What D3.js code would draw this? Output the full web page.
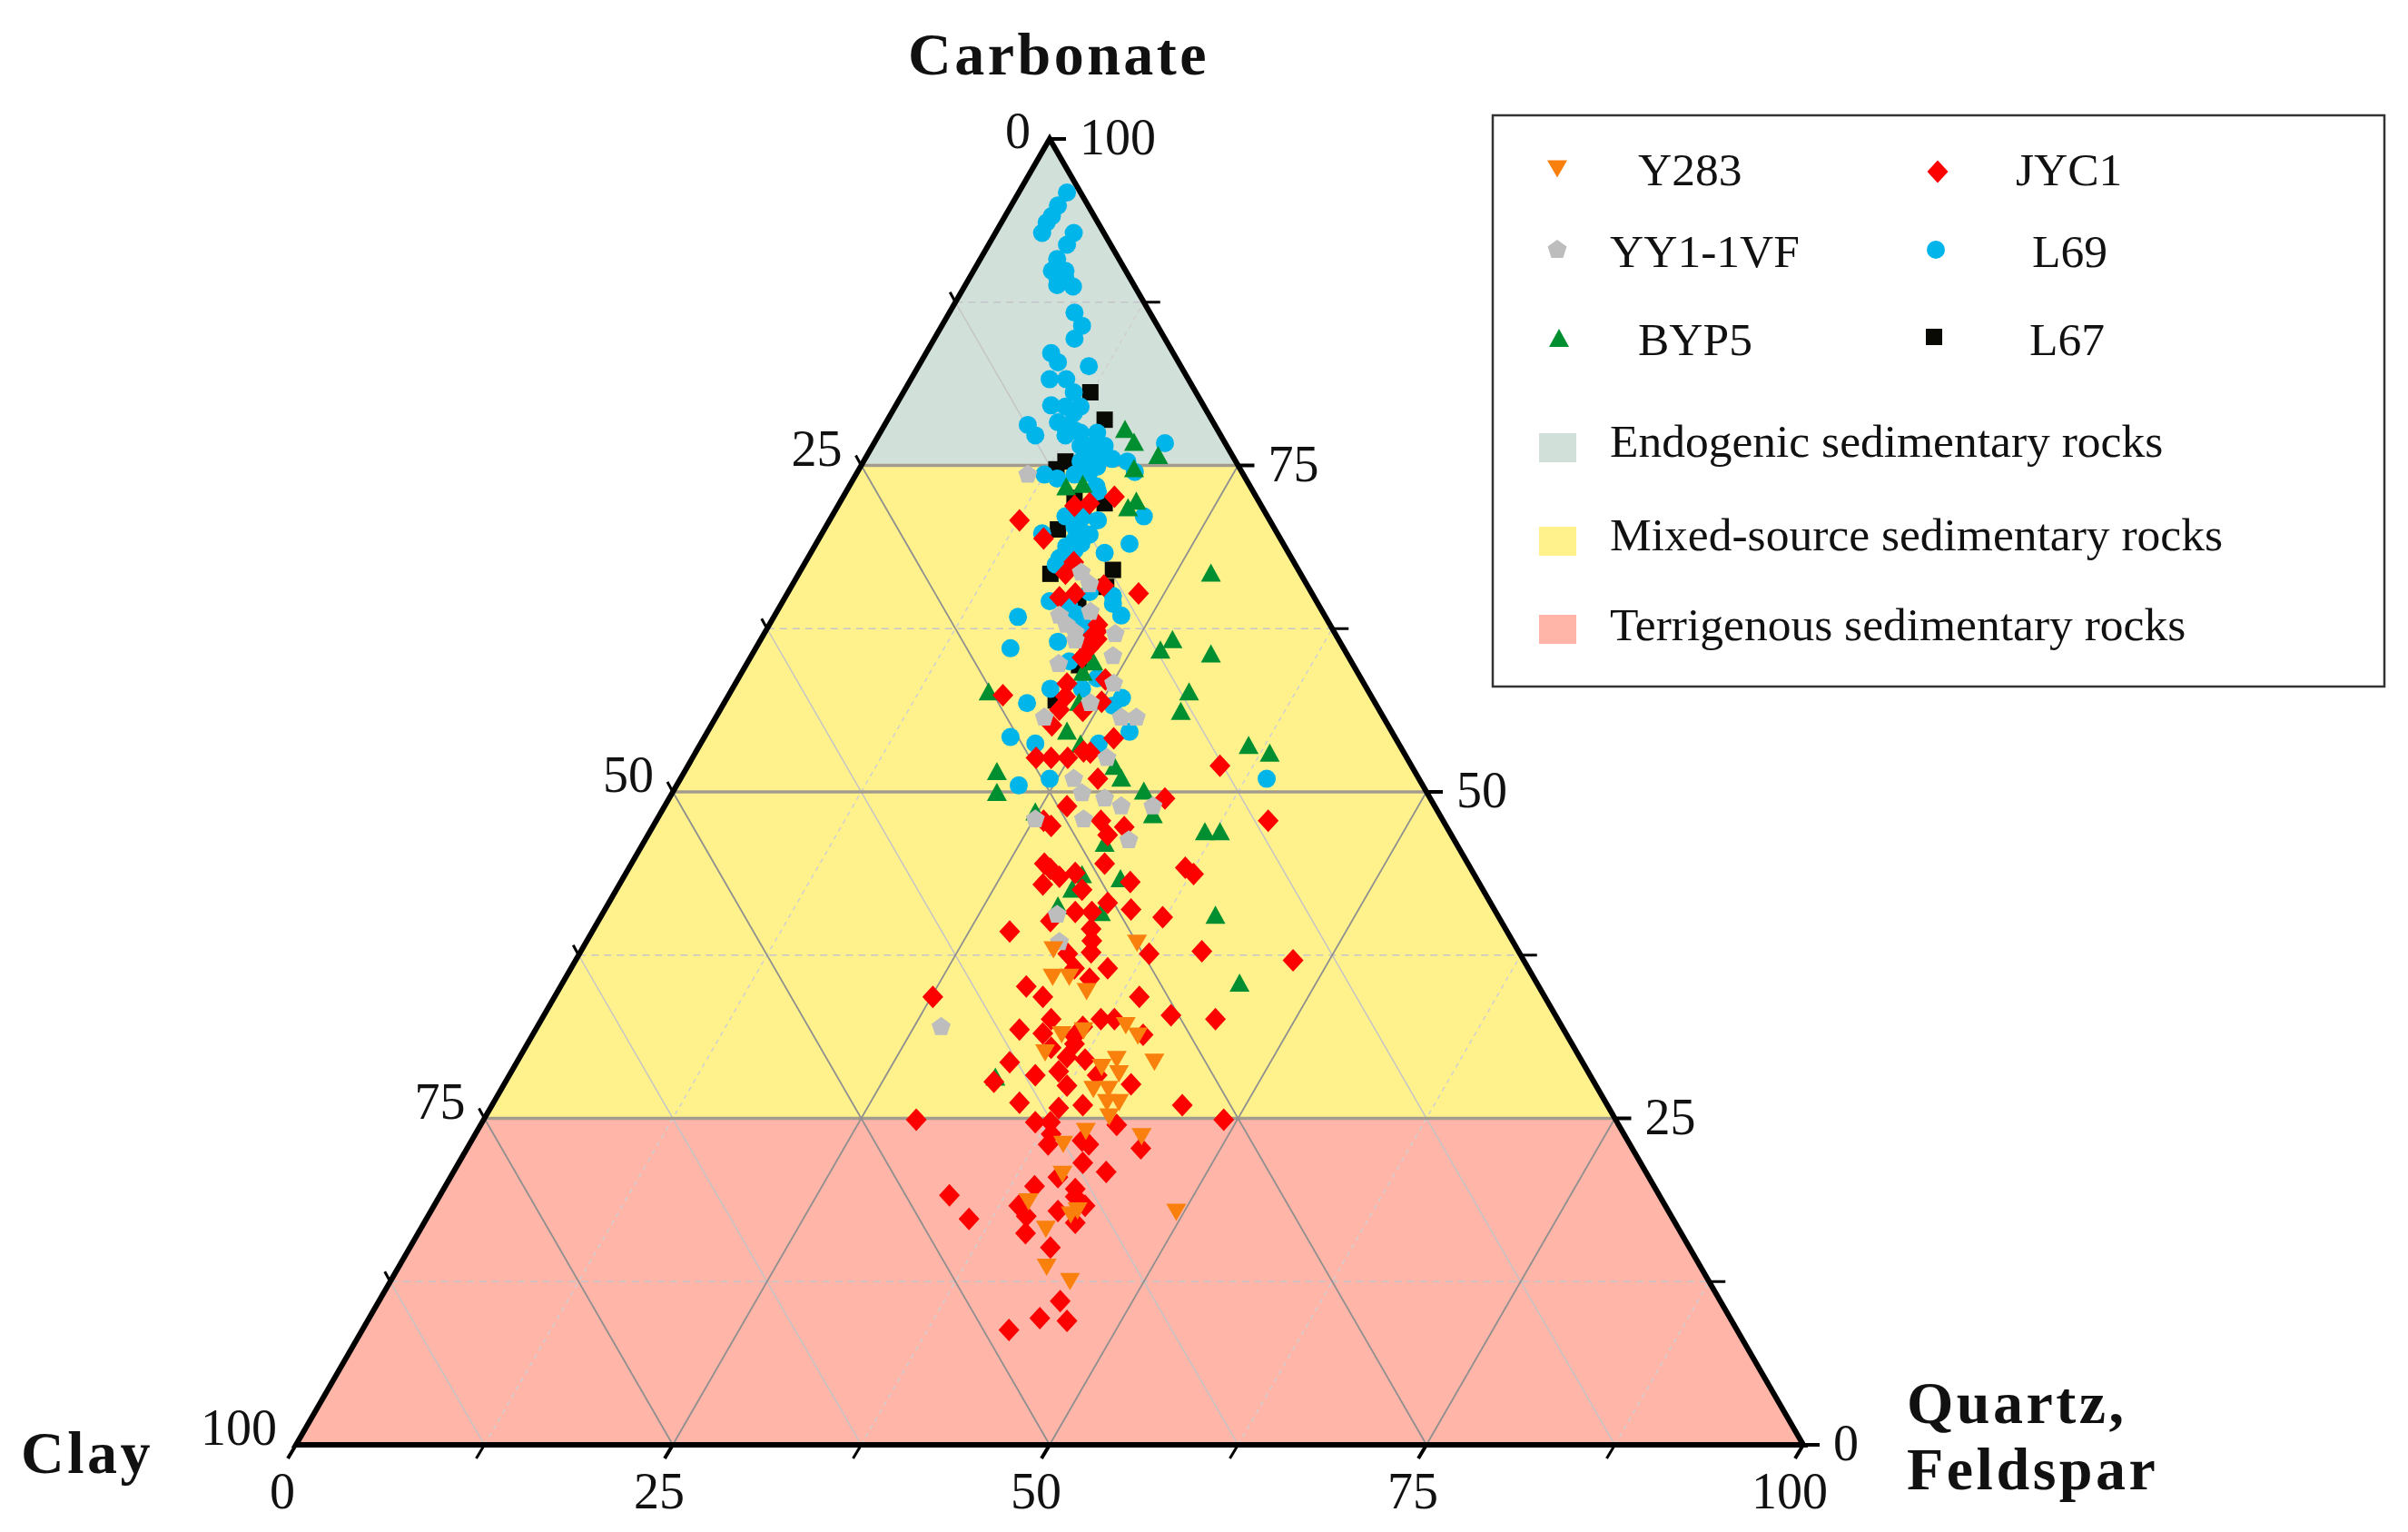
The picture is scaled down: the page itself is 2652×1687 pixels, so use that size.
<!DOCTYPE html>
<html>
<head>
<meta charset="utf-8">
<title>Ternary diagram</title>
<script src="https://cdnjs.cloudflare.com/ajax/libs/d3/7.8.5/d3.min.js"></script>
<style>
  html, body { margin: 0; background: #fff; }
  svg { display: block; }
  text { font-family: "Liberation Serif", serif; fill: #111; }
</style>
</head>
<body>
<svg id="svg" width="2652" height="1687"></svg>
<script>
// every point is [quartz+feldspar, carbonate], clay is the rest up to 100
const l67 = [[12.4,80.6],[14.4,78.5],[13.4,75.3],[13.1,74.7],[15.4,72.5],[17.6,72.1],[15.5,70.1],[16.7,66.7],[20.7,67.0],[20.9,65.7],[19.6,64.6],[21.4,62.2],[22.1,59.7],[21.9,57.0]];

const l69 = [[3.2,95.9],[3.1,94.9],[3.1,94.1],[3.0,93.6],[3.1,92.8],[5.2,92.8],[5.2,91.9],[5.1,90.8],[5.2,89.9],[6.1,89.9],[5.8,89.4],[6.1,88.8],[7.2,88.7],[6.4,89.3],[8.3,86.7],[9.3,85.7],[9.3,84.7],[8.3,83.6],[9.1,82.9],[11.3,82.6],[9.2,81.6],[10.3,81.6],[11.3,80.6],[10.3,79.6],[12.3,79.5],[11.3,79.5],[12.1,79.0],[11.4,78.3],[12.1,78.0],[9.5,78.1],[10.4,77.3],[12.4,77.3],[13.3,77.5],[14.4,77.5],[19.3,76.7],[15.4,76.5],[14.4,76.5],[13.8,76.5],[15.2,75.9],[14.8,75.6],[16.4,75.5],[17.5,75.3],[14.4,75.3],[15.3,74.6],[12.5,74.3],[13.5,74.0],[14.5,74.3],[15.4,74.4],[18.4,74.5],[16.4,73.4],[12.8,77.7],[15.8,75.6],[15.7,74.9],[14.8,74.6],
  [16.7,73.0],[15.5,71.1],[16.7,71.1],[17.8,70.8],[20.7,71.1],[14.6,69.8],[16.5,70.3],[17.8,69.7],[17.0,69.3],[17.6,69.0],[20.8,69.0],[16.7,68.8],[19.5,68.3],[16.7,67.9],[17.4,68.5],[16.7,67.4],[20.0,65.3],[21.7,65.0],[22.0,64.4],[17.7,64.6],[19.2,64.2],[20.0,63.6],[23.0,63.5],[16.2,63.4],[20.8,62.8],[19.8,61.5],[16.9,61.0],[21.3,60.0],[23.8,58.7],[21.1,57.9],[23.2,57.9],[26.2,57.2],[25.9,56.6],[20.1,56.8],[28.0,54.6],[20.3,54.2],[22.2,53.7],[26.4,53.7],[24.5,51.0],[22.7,50.5],[38.9,51.0],[16.3,70.8],[16.9,68.3],[17.2,69.9]];

const byp5 = [[16.1,77.8],[17.2,76.8],[19.3,75.8],[18.2,74.8],[14.4,73.4],[15.4,73.6],
  [19.3,71.8],[19.6,72.3],[27.3,66.8],[27.3,61.7],[26.9,60.9],[30.4,60.6],[22.6,59.2],[22.9,60.0],[17.1,57.7],[30.4,57.7],[30.6,56.2],[23.8,54.7],[25.2,53.7],[36.4,53.6],[38.1,53.0],[28.3,52.0],[20.7,51.6],[29.2,51.1],[21.5,50.0],[31.2,50.1],[24.8,48.5],[32.7,48.3],[36.8,47.0],[37.8,47.0],[30.6,46.1],[23.5,56.9],
  [30.3,43.7],[33.0,43.4],[30.2,42.6],[29.9,41.3],[33.0,40.8],[40.7,40.6],[44.9,35.4],[32.3,28.2]];

const jyc1 = [[18.0,72.6],[16.6,72.1],[15.7,71.9],[12.6,70.8],[14.9,69.4],[17.7,66.7],[17.8,67.6],[20.7,65.8],[23.3,65.2],[18.2,64.9],[19.1,65.2],[21.8,62.8],[22.3,61.7],[22.1,61.0],[22.0,60.3],[22.0,62.3],[21.8,61.7],[22.0,58.3],[24.4,58.6],[18.2,57.4],[22.4,57.3],[25.0,56.9],[22.5,56.3],[24.1,56.2],[22.6,55.1],[27.2,54.1],[22.8,52.6],[23.8,52.6],[24.9,52.6],[25.7,53.1],[26.2,53.0],[35.3,52.0],[27.7,51.0],[32.9,49.5],[26.7,48.9],[29.5,47.8],[26.4,47.4],[25.7,47.8],[31.3,47.3],[30.5,46.7],[40.6,47.8],
  [28.0,44.1],[28.9,43.5],[29.8,43.8],[27.4,44.5],[31.4,44.5],[36.9,44.2],[37.7,43.7],[28.1,42.9],[30.9,42.5],[33.8,43.1],[33.1,41.5],[31.3,40.8],[32.4,40.8],[34.9,41.0],[30.0,40.1],[37.3,40.4],[27.7,39.3],[33.0,39.5],[33.5,38.6],[33.9,37.7],[32.4,37.6],[37.8,37.6],[41.2,37.8],[47.6,37.1],[33.4,36.5],[35.6,36.5],[34.8,35.7],[30.9,35.1],[32.4,34.3],[25.1,34.3],[38.8,34.3],[33.8,32.6],[37.1,32.6],[38.0,32.6],[41.6,32.9],[44.7,32.6],[32.1,31.8],[33.8,31.5],[36.2,32.0],[40.5,31.4],[36.0,31.3],[36.3,30.7],[34.9,30.4],[36.3,29.7],[37.6,29.5],[32.7,29.3],[36.3,28.6],[34.9,28.3],[39.0,28.3],[32.4,27.8],[37.4,27.5],[41.6,27.6],[34.9,26.2],[37.7,25.8],[39.2,26.0],[45.8,26.0],[28.7,24.9],[36.7,24.7],[37.7,24.7],[42.2,24.5],[49.1,24.9],[38.2,23.8],[38.4,23.0],[40.5,23.3],[41.1,23.0],[44.7,22.7],[41.4,21.6],[43.3,20.9],[40.3,20.5],[39.1,19.8],[41.9,19.6],[33.8,19.1],[38.8,18.3],[42.2,19.0],[41.6,17.9],[43.2,18.3],[36.0,17.3],[39.7,17.5],[43.2,17.0],[40.3,16.2],[42.5,15.1],[45.2,11.0],[44.5,9.7],[46.4,9.5],[42.9,8.8]];

const yy1 = [[11.4,74.3],[18.7,66.8],[19.7,65.9],[20.8,63.8],[18.9,63.5],[19.7,62.8],[23.3,62.1],[20.9,61.6],[24.0,60.4],[20.7,59.8],[25.1,58.3],[24.3,56.8],[21.8,55.7],[26.9,55.7],[27.9,55.7],[27.5,52.6],[26.1,51.0],[27.2,49.9],[28.9,49.5],[30.3,48.9],[32.4,48.9],[25.1,47.9],[28.3,47.9],[32.1,46.3],[20.6,62.2],[30.2,40.6],[31.4,38.5],[26.8,32.0]];

const y283 = [[36.6,38.4],[31.3,37.9],[32.3,35.8],[33.4,35.8],[35.1,34.7],[35.1,31.4],[36.4,31.7],[39.0,32.1],[40.2,31.3],[34.7,30.0],[39.7,29.5],[42.3,29.3],[39.0,28.9],[40.4,28.4],[39.3,27.2],[40.3,27.2],[40.7,26.2],[41.5,26.2],[41.4,25.1],[40.4,24.0],[44.3,23.6],[39.4,23.0],[40.5,20.7],[39.3,18.6],[42.9,17.9],[42.6,17.6],[41.5,16.5],[49.5,17.8],[43.0,13.6],[45.1,12.5]];

const seriesNames = ['Y283', 'JYC1', 'YY1-1VF', 'L69', 'BYP5', 'L67'];
const bandNames = ['Endogenic sedimentary rocks', 'Mixed-source sedimentary rocks', 'Terrigenous sedimentary rocks'];
const bandLimits = [[75, 100], [25, 75], [0, 25]];
const bandColors = ['#d1e0d9', '#fff28d', '#ffb5a7'];
const majorTicks = [25, 50, 75];
const minorTicks = [12.5, 37.5, 62.5, 87.5];
const allTicks = [0, 12.5, 25, 37.5, 50, 62.5, 75, 87.5, 100];
const labelTicks = [0, 25, 50, 75, 100];

const xScale = d3.scaleLinear().domain([0, 100]).range([326, 1986]);
const yScale = d3.scaleLinear().domain([0, 100]).range([1591, 153]);

// ternary to screen
const px = (q, c) => xScale(q + c / 2);
const py = c => yScale(c);
const pt = (q, c) => [px(q, c), py(c)];
const line = d3.line();

const svg = d3.select('#svg');

// marker shapes, d3.symbol only has a tall diamond and no pentagon
const poly = pts => ({
  draw(ctx) {
    pts.forEach((p, i) => i ? ctx.lineTo(p[0], p[1]) : ctx.moveTo(p[0], p[1]));
    ctx.closePath();
  }
});
const pentagon = d3.range(5).map(i => {
  const a = -Math.PI / 2 + i * 2 * Math.PI / 5;
  return [11 * Math.cos(a), 11 * Math.sin(a)];
});
const shapes = {
  'Y283': poly([[-11, -9.5], [11, -9.5], [0, 9.5]]),
  'JYC1': poly([[0, -12.5], [11.5, 0], [0, 12.5], [-11.5, 0]]),
  'YY1-1VF': poly(pentagon),
  'L69': d3.symbolCircle,
  'BYP5': poly([[0, -10], [11, 10], [-11, 10]]),
  'L67': poly([[-9, -9], [9, -9], [9, 9], [-9, 9]])
};
const colors = { 'Y283': '#f9800c', 'JYC1': '#fd0000', 'YY1-1VF': '#bdbdbd', 'L69': '#00b5ea', 'BYP5': '#008f30', 'L67': '#0a0a05' };
const symbolPath = name => d3.symbol().type(shapes[name]).size(name === 'L69' ? 314 : 1)();

// coloured bands
bandLimits.forEach((b, i) => {
  const [lo, hi] = b;
  const corners = [pt(0, lo), pt(100 - lo, lo), pt(100 - hi, hi), pt(0, hi)];
  svg.append('path').attr('d', line(corners) + 'Z').attr('fill', bandColors[i]);
});

// grid
const grid = svg.append('g').attr('fill', 'none');
minorTicks.forEach(t => {
  grid.append('path').attr('d', line([pt(0, t), pt(100 - t, t)]))
    .attr('stroke', '#c4c4ca').attr('stroke-width', 1.6).attr('stroke-dasharray', '8,6');
  grid.append('path').attr('d', line([pt(t, 0), pt(t, 100 - t)]))
    .attr('stroke', '#cfcfd2').attr('stroke-width', 1.5).attr('stroke-dasharray', '5,5');
  grid.append('path').attr('d', line([pt(0, 100 - t), pt(100 - t, 0)]))
    .attr('stroke', '#c4c4c6').attr('stroke-width', 1.5);
});
majorTicks.forEach(t => {
  grid.append('path').attr('d', line([pt(0, t), pt(100 - t, t)]))
    .attr('stroke', '#a39c8e').attr('stroke-width', 3.5);
  grid.append('path').attr('d', line([pt(t, 0), pt(t, 100 - t)]))
    .attr('stroke', '#8f8f8f').attr('stroke-width', 1.8);
  grid.append('path').attr('d', line([pt(0, 100 - t), pt(100 - t, 0)]))
    .attr('stroke', '#8f8f8f').attr('stroke-width', 1.8);
});

// outline and ticks
const frame = svg.append('g').attr('fill', 'none').attr('stroke', '#000');
frame.append('path').attr('d', line([pt(0, 100), pt(0, 0), pt(100, 0)]) + 'Z')
  .attr('stroke-width', 6).attr('stroke-linejoin', 'miter');
allTicks.forEach(t => {
  // bottom
  frame.append('path').attr('d', line([pt(t, 0), [px(t, 0) - 9, py(0) + 15]])).attr('stroke-width', t % 25 ? 3 : 4);
  // right
  frame.append('path').attr('d', line([pt(100 - t, t), [px(100 - t, t) + 18, py(t)]])).attr('stroke-width', t % 25 ? 3 : 4);
  // left
  if (t > 0 && t < 100) {
    frame.append('path').attr('d', line([pt(0, 100 - t), [px(0, 100 - t) - 6, py(100 - t) - 11]])).attr('stroke-width', 3);
  }
});

// points
const order = [['L67', l67], ['L69', l69], ['BYP5', byp5], ['JYC1', jyc1], ['YY1-1VF', yy1], ['Y283', y283]];
order.forEach(([name, rows]) => {
  svg.append('g').selectAll('path')
    .data(rows)
    .enter()
    .append('path')
    .attr('d', symbolPath(name))
    .attr('fill', colors[name])
    .attr('transform', d => `translate(${px(d[0], d[1])},${py(d[1])})`);
});

// tick labels
const labels = svg.append('g').attr('font-size', 56);
labelTicks.forEach(t => {
  labels.append('text').text(t).attr('text-anchor', 'middle')
    .attr('x', px(t, 0) - 15).attr('y', py(0) + 52).attr('dy', '.33em');
  labels.append('text').text(t).attr('text-anchor', 'start')
    .attr('x', px(100 - t, t) + 33).attr('y', py(t) - 1).attr('dy', '.33em');
  labels.append('text').text(t).attr('text-anchor', 'end')
    .attr('x', px(0, 100 - t) - 21).attr('y', py(100 - t) - (t === 0 ? 8 : 18)).attr('dy', '.33em');
});

// corner titles
const titles = [['Carbonate', 1000, 82], ['Clay', 23, 1622], ['Quartz,', 2100, 1567], ['Feldspar', 2100, 1640]];
svg.append('g').selectAll('text')
  .data(titles)
  .enter()
  .append('text')
  .text(d => d[0])
  .attr('x', d => d[1])
  .attr('y', d => d[2])
  .attr('font-size', 66)
  .attr('font-weight', 'bold')
  .attr('letter-spacing', 3.5);

// legend
const legend = svg.append('g');
legend.append('rect').attr('x', 1644).attr('y', 127).attr('width', 982).attr('height', 629)
  .attr('fill', '#fff').attr('stroke', '#333').attr('stroke-width', 2.5);
const legendPos = {
  'Y283': [1715, 186, 1804, 187], 'JYC1': [2134, 189, 2220, 187],
  'YY1-1VF': [1715, 275, 1773, 277], 'L69': [2132, 275, 2238, 277],
  'BYP5': [1717, 372, 1804, 374], 'L67': [2130, 371, 2235, 374]
};
seriesNames.forEach(name => {
  const p = legendPos[name];
  legend.append('path').attr('d', symbolPath(name)).attr('fill', colors[name])
    .attr('transform', `translate(${p[0]},${p[1]})`);
  legend.append('text').text(name).attr('x', p[2]).attr('y', p[3]).attr('dy', '.33em').attr('font-size', 51.5);
});
const bandRows = [[477, 486], [580, 589], [677, 688]];
bandNames.forEach((name, i) => {
  legend.append('rect').attr('x', 1695).attr('y', bandRows[i][0]).attr('width', 41).attr('height', 32).attr('fill', bandColors[i]);
  legend.append('text').text(name).attr('x', 1773).attr('y', bandRows[i][1]).attr('dy', '.33em').attr('font-size', 51.5);
});
</script>
</body>
</html>
